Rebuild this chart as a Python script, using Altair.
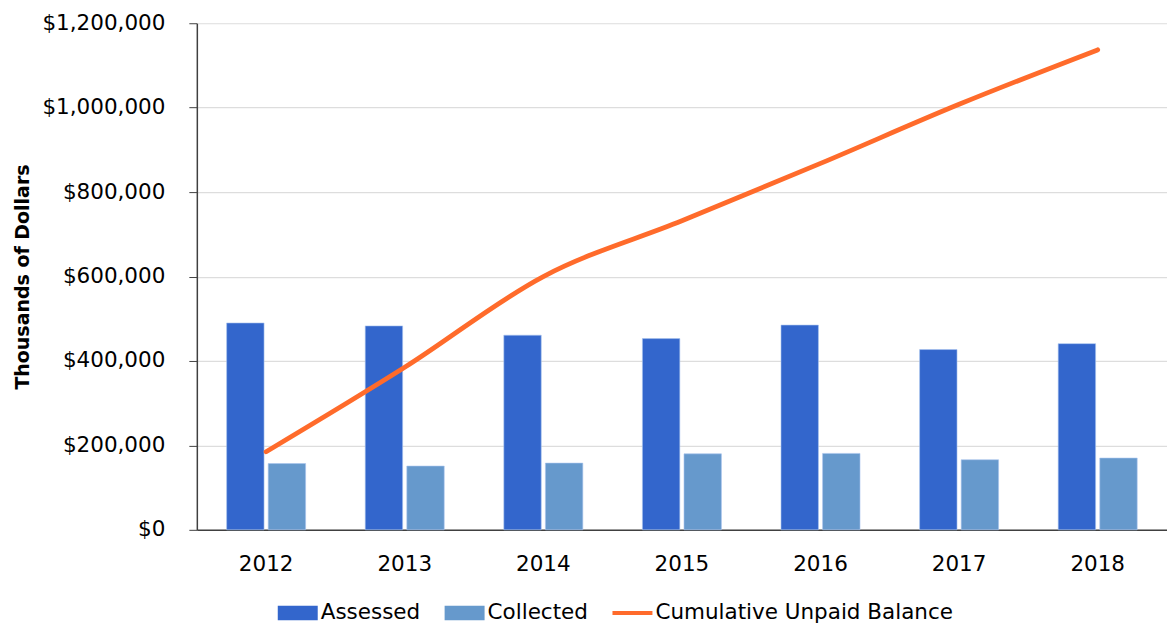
import altair as alt
import pandas as pd

years = ["2012", "2013", "2014", "2015", "2016", "2017", "2018"]
assessed = [490000, 483000, 461000, 453000, 485000, 427000, 441000]
collected = [157000, 151000, 158000, 180000, 181000, 166000, 170000]
unpaid = [185000, 385000, 600000, 732000, 868000, 1008000, 1137000]
series_names = ["Assessed", "Collected", "Cumulative Unpaid Balance"]
colors = ["#3366CC", "#6699CC", "#FF6B2B"]
y_ticks = [0, 200000, 400000, 600000, 800000, 1000000, 1200000]

RECT = "M-1,-0.36L1,-0.36L1,0.36L-1,0.36Z"
THIN = "M-1,-0.1L1,-0.1L1,0.1L-1,0.1Z"
legend_shapes = [RECT, RECT, THIN]

bars_df = pd.DataFrame({
    "year": years * 2,
    "series": [series_names[0]] * len(years) + [series_names[1]] * len(years),
    "value": assessed + collected,
})
line_df = pd.DataFrame({"year": years, "series": series_names[2], "value": unpaid})
key_df = pd.concat([bars_df, line_df], ignore_index=True)

FONT = "DejaVu Sans"
FS = 21.5

legend = alt.Legend(
    title=None,
    orient="none",
    legendX=81,
    legendY=570,
    direction="horizontal",
    labelFont=FONT,
    labelFontSize=FS,
    labelColor="#000000",
    labelLimit=400,
    symbolSize=1600,
    symbolStrokeWidth=0,
    symbolOpacity=1,
    labelOffset=3,
    columnPadding=24,
)

color = alt.Color("series:N", scale=alt.Scale(domain=series_names, range=colors), legend=legend)

x_enc = alt.X(
    "year:N",
    sort=years,
    scale=alt.Scale(paddingInner=0.43, paddingOuter=0.215),
    axis=alt.Axis(
        title=None, labelAngle=0, ticks=False, labelPadding=24,
        labelFont=FONT, labelFontSize=FS, labelColor="#000000",
        domainColor="#404040", domainWidth=1.5, grid=False,
    ),
)

y_enc = alt.Y(
    "value:Q",
    scale=alt.Scale(domain=[0, 1200000], nice=False),
    axis=alt.Axis(
        values=y_ticks, format="$,.0f", title="Thousands of Dollars",
        titleFont=FONT, titleFontSize=19, titleFontWeight="bold", titleColor="#000000",
        titlePadding=9,
        labelFont=FONT, labelFontSize=FS, labelColor="#000000", labelPadding=24,
        tickSize=8, tickColor="#404040", domainColor="#404040", domainWidth=1.5,
        grid=True, gridColor="#DDDDDD", gridWidth=1.2,
    ),
)

bars = alt.Chart(bars_df).mark_bar(stroke="#A9C4EE", strokeWidth=0.6).encode(
    x=x_enc,
    xOffset=alt.XOffset("series:N", sort=series_names[:2],
                        scale=alt.Scale(paddingInner=0.1, paddingOuter=0)),
    y=y_enc,
    color=color,
)

line = alt.Chart(line_df).mark_line(strokeWidth=4.8, interpolate="monotone", strokeCap="round").encode(
    x=alt.X("year:N", sort=years),
    y=alt.Y("value:Q"),
    color=alt.Color("series:N"),
)

key = alt.Chart(key_df).mark_point(filled=True, size=0, opacity=1).encode(
    x=alt.X("year:N", sort=years),
    y=alt.Y("value:Q"),
    color=alt.Color("series:N"),
    shape=alt.Shape("series:N", scale=alt.Scale(domain=series_names, range=legend_shapes), legend=legend),
)

chart = alt.layer(bars, line, key).properties(
    width=971,
    height=507,
    padding={"left": 13, "top": 12, "right": 0, "bottom": 0},
    background="white",
).configure_view(stroke=None)

chart.save("out.html", embed_options={"renderer": "svg", "actions": False})
